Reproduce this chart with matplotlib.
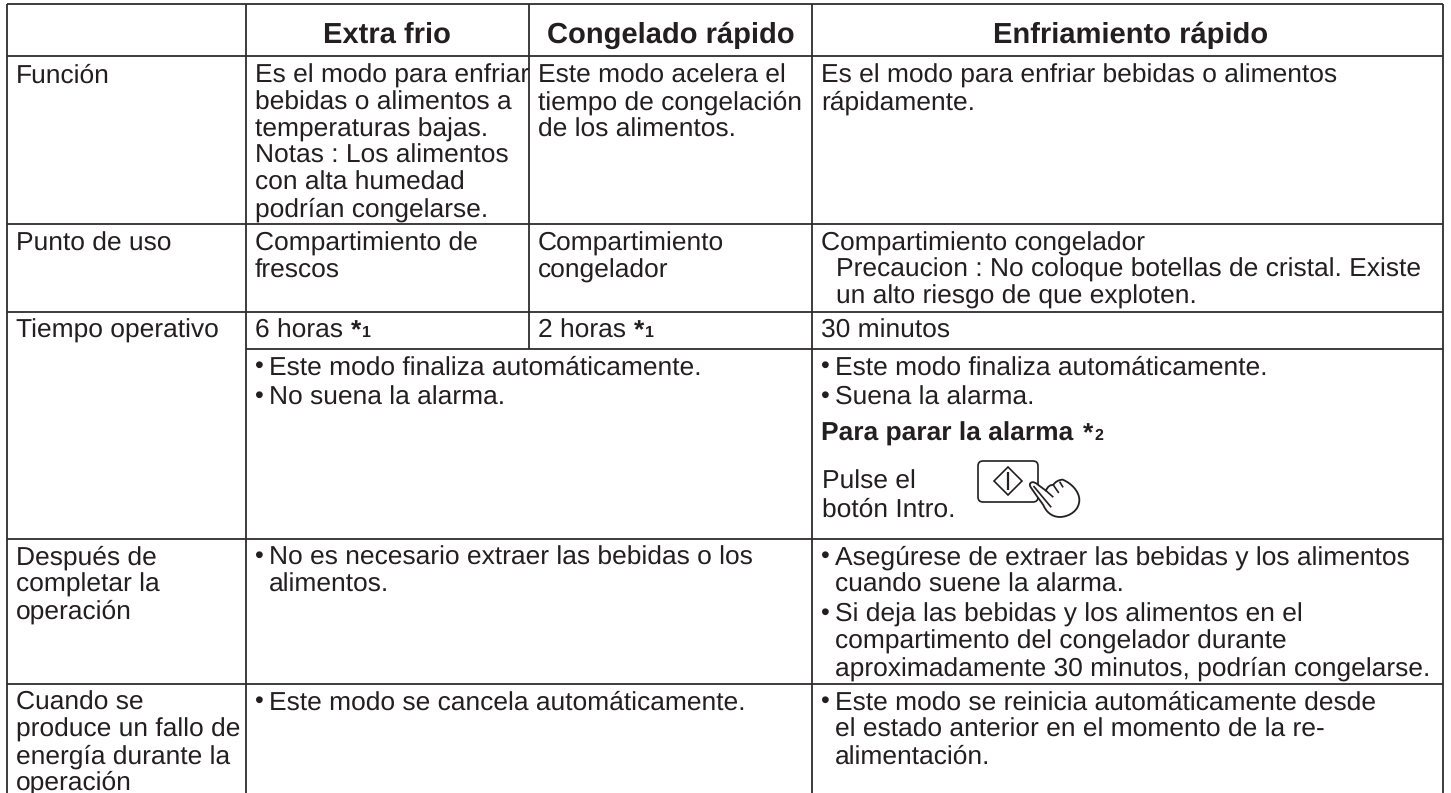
import matplotlib
matplotlib.use("Agg")
from matplotlib import pyplot as plt
from matplotlib.patches import FancyBboxPatch, Polygon, PathPatch
from matplotlib.path import Path

plt.rcParams["text.hinting"] = "no_hinting"

W, H = 1451, 793
FONT = "Liberation Sans"
SIZE = 19.0
INK = "#231f20"

headers = ["Extra frio", "Congelado rápido", "Enfriamiento rápido"]
row_funcion = ["Función"]
row_punto = ["Punto de uso"]
row_tiempo = ["Tiempo operativo"]
row_despues = ["Después de", "completar la", "operación"]
row_cuando = ["Cuando se", "produce un fallo de", "energía durante la", "operación"]

funcion_extra = ["Es el modo para enfriar", "bebidas o alimentos a", "temperaturas bajas.",
                 "Notas : Los alimentos", "con alta humedad", "podrían congelarse."]
funcion_cong = ["Este modo acelera el", "tiempo de congelación", "de los alimentos."]
funcion_enfr = ["Es el modo para enfriar bebidas o alimentos", "rápidamente."]
punto_extra = ["Compartimiento de", "frescos"]
punto_cong = ["Compartimiento", "congelador"]
punto_enfr = ["Compartimiento congelador"]
punto_nota = ["Precaucion : No coloque botellas de cristal. Existe", "un alto riesgo de que exploten."]
tiempo_extra = "6 horas"
tiempo_cong = "2 horas"
tiempo_enfr = "30 minutos"
modo_izq = ["Este modo finaliza automáticamente.", "No suena la alarma."]
modo_der = ["Este modo finaliza automáticamente.", "Suena la alarma."]
alarma = "Para parar la alarma"
pulse = ["Pulse el", "botón Intro."]
despues_izq = ["No es necesario extraer las bebidas o los", "alimentos."]
despues_der1 = ["Asegúrese de extraer las bebidas y los alimentos", "cuando suene la alarma."]
despues_der2 = ["Si deja las bebidas y los alimentos en el", "compartimento del congelador durante",
                "aproximadamente 30 minutos, podrían congelarse."]
cancela = ["Este modo se cancela automáticamente."]
reinicia = ["Este modo se reinicia automáticamente desde", "el estado anterior en el momento de la re-",
            "alimentación."]

LINE = 26.7


def put(ax, x, y, lines, step=LINE, **kw):
    for i, s in enumerate(lines):
        ax.text(x, y + i * step, s, family=FONT, fontsize=SIZE, va="baseline", ha="left", color=INK, **kw)


def bullet(ax, x, y, lines, step=LINE):
    # bullet dot sits in the margin, all lines hang on the text edge
    ax.text(x - 1, y - 2, "•", family=FONT, fontsize=18, va="baseline", ha="left", color=INK)
    put(ax, x + 14, y, lines, step)


def note_mark(ax, x, y, digit):
    ax.text(x, y, "*", family=FONT, fontsize=SIZE, fontweight="bold", va="baseline", color=INK)
    ax.text(x + 11, y - 1, digit, family=FONT, fontsize=11.5, fontweight="bold", va="baseline", color=INK)


fig = plt.figure(figsize=(W / 100, H / 100), dpi=100)
ax = fig.add_axes([0, 0, 1, 1])
ax.set_xlim(0, W)
ax.set_ylim(H, 0)
ax.axis("off")

# table grid
kw = dict(color="#2e2c2d", lw=1.3, solid_capstyle="butt")
for y in [4, 56, 224, 312, 539, 684]:
    ax.plot([7, 1443], [y, y], **kw)
ax.plot([246, 1443], [349, 349], **kw)
for x in [7, 246, 812, 1443]:
    ax.plot([x, x], [4, H], **kw)
ax.plot([529, 529], [4, 349], **kw)

# header
for cx, s in zip([387, 671, 1131], headers):
    ax.text(cx, 43, s, family=FONT, fontsize=21, fontweight="bold", ha="center", va="baseline", color=INK)

# row labels
put(ax, 16, 83, row_funcion)
put(ax, 16, 251, row_punto)
put(ax, 16, 338, row_tiempo)
put(ax, 16, 565, row_despues)
put(ax, 16, 710, row_cuando)

# funcion / punto de uso
put(ax, 255, 83, funcion_extra)
put(ax, 538, 83, funcion_cong)
put(ax, 821, 83, funcion_enfr)
put(ax, 255, 251, punto_extra)
put(ax, 538, 251, punto_cong)
put(ax, 821, 251, punto_enfr)
put(ax, 836, 277, punto_nota)

# tiempo operativo
put(ax, 255, 338, [tiempo_extra])
note_mark(ax, 351, 338, "1")
put(ax, 538, 338, [tiempo_cong])
note_mark(ax, 634, 338, "1")
put(ax, 821, 338, [tiempo_enfr])

bullet(ax, 255, 375, modo_izq[:1])
bullet(ax, 255, 405, modo_izq[1:])
bullet(ax, 821, 375, modo_der[:1])
bullet(ax, 821, 405, modo_der[1:])
put(ax, 821, 441, [alarma], fontweight="bold")
note_mark(ax, 1083, 441, "2")
put(ax, 822, 489, pulse, step=28)

# enter button with the pressing hand
ax.add_patch(FancyBboxPatch((978, 461), 60, 41, boxstyle="round,pad=0,rounding_size=5",
                            fc="white", ec=INK, lw=1.2))
ax.add_patch(Polygon([(1008, 467), (1022, 481), (1008, 495), (994, 481)], fc="none", ec=INK, lw=1.2))
ax.plot([1008, 1008], [472, 490], color=INK, lw=1.6, solid_capstyle="butt")


def hx(x, y):
    return (960 + x / 3, 445 + y / 3)


hand_pts = [(215, 112),
            (225, 108), (240, 125), (258, 137),
            (262, 125), (272, 118), (280, 120),
            (285, 110), (298, 104), (308, 104),
            (335, 115), (358, 140), (358, 165),
            (358, 195), (330, 215), (300, 216),
            (275, 216), (258, 200), (250, 180),
            (235, 160), (225, 145), (213, 128),
            (208, 120), (208, 115), (215, 112)]
hand_codes = [Path.MOVETO] + [Path.CURVE4] * 24
ax.add_patch(PathPatch(Path([hx(*p) for p in hand_pts], hand_codes), fc="white", ec=INK, lw=1.3, zorder=3))
for seg in [[(222, 125), (272, 185)], [(258, 137), (278, 155)], [(280, 120), (295, 142)], [(300, 112), (308, 125)]]:
    xs, ys = zip(*[hx(*p) for p in seg])
    ax.plot(xs, ys, color=INK, lw=1.2, zorder=4)

# despues / cuando
bullet(ax, 255, 565, despues_izq)
bullet(ax, 821, 565, despues_der1)
bullet(ax, 821, 622, despues_der2)
bullet(ax, 255, 710, cancela)
bullet(ax, 821, 710, reinicia)

plt.savefig("out.png", dpi=100)
